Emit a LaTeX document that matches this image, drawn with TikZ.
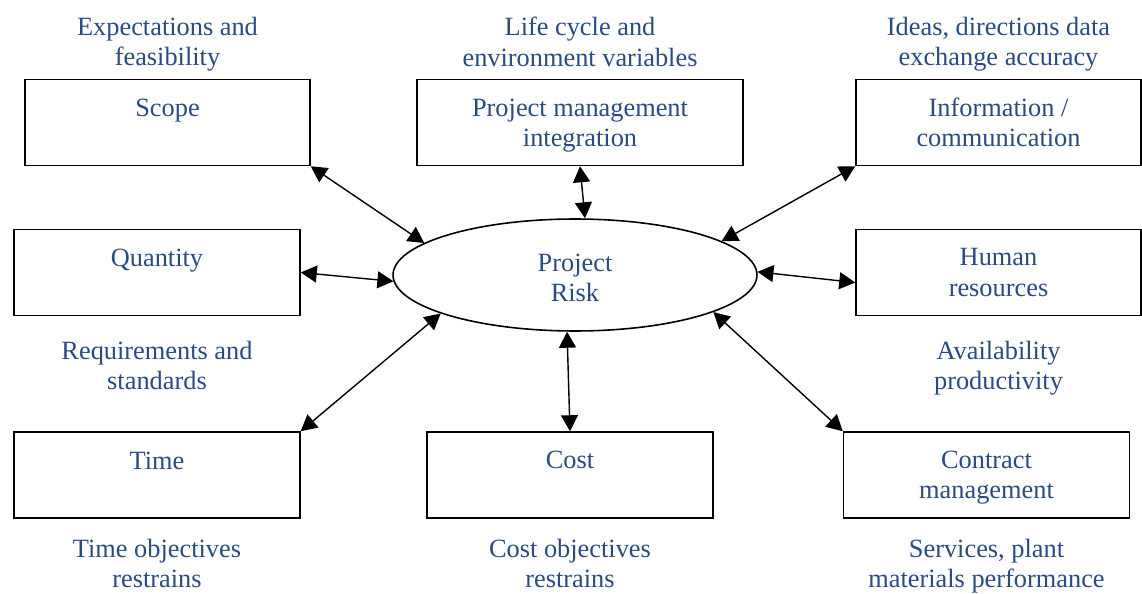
\documentclass[tikz,border=0pt]{standalone}
\usepackage{fontspec}
\setmainfont{Liberation Serif}
\usetikzlibrary{positioning,shapes.geometric,arrows.meta}
\definecolor{riskblue}{RGB}{40,75,130}

\begin{document}
\begin{tikzpicture}[x=0.02cm,y=-0.02cm,
  box/.style={draw,line width=0.9pt,minimum width=5.72cm,minimum height=1.72cm,inner sep=0},
  txt/.style={text=riskblue,align=center,inner sep=0,font=\fontsize{15}{17.25}\selectfont},
  link/.style={line width=0.8pt,{Triangle[length=0.32cm,width=0.34cm]}-{Triangle[length=0.32cm,width=0.34cm]}}]
\useasboundingbox (0,0) rectangle (1142,594);
% centre
\node[draw,ellipse,line width=0.9pt,minimum width=7.28cm,minimum height=2.24cm,inner sep=0] (risk) at (575,275) {};
\node[txt] (risktxt) at (575,278) {Project\\Risk};
% boxes
\node[box,minimum width=5.7cm] (scope) at (167.5,122.5) {};
\node[box,minimum width=6.52cm] (pm) at (580,122.5) {};
\node[box,minimum width=5.7cm] (info) at (998.5,122.5) {};
\node[box] (quantity) at (157,272.5) {};
\node[box,minimum width=5.7cm] (human) at (998.5,272.5) {};
\node[box] (time) at (157,475) {};
\node[box] (cost) at (570,475) {};
\node[box] (contract) at (986.5,475) {};
% box texts
\node[txt,below=0.39cm of scope.north] (scopetxt) {Scope};
\node[txt,below=0.39cm of pm.north] (pmtxt) {Project management\\integration};
\node[txt,below=0.37cm of info.north] (infotxt) {Information /\\communication};
\node[txt,below=0.39cm of quantity.north] (quantitytxt) {Quantity};
\node[txt,below=0.39cm of human.north] (humantxt) {Human\\resources};
\node[txt,below=0.4cm of time.north] (timetxt) {Time};
\node[txt,below=0.39cm of cost.north] (costtxt) {Cost};
\node[txt,below=0.39cm of contract.north] (contracttxt) {Contract\\management};
% outer labels
\node[txt,above=0.14cm of scope] (scopelbl) {Expectations and\\feasibility};
\node[txt,above=0.24cm of pm] (pmlbl) {Life cycle and\\environment variables};
\node[txt,above=0.14cm of info] (infolbl) {Ideas, directions data\\exchange accuracy};
\node[txt,below=0.49cm of quantity] (quantitylbl) {Requirements and\\standards};
\node[txt,below=0.49cm of human] (humanlbl) {Availability\\productivity};
\node[txt,below=0.4cm of time] (timelbl) {Time objectives\\restrains};
\node[txt,below=0.4cm of cost] (costlbl) {Cost objectives\\restrains};
\node[txt,below=0.4cm of contract] (contractlbl) {Services, plant\\materials performance};
% links
\draw[link] (scope.south east) -- (risk.168);
\draw[link] (pm.south) -- (risk.80);
\draw[link] (info.south west) -- (risk.13);
\draw[link] (quantity.east) -- (risk.182);
\draw[link] (risk.1) -- (human.184);
\draw[link] (time.north east) -- (risk.196);
\draw[link] (risk.262) -- (cost.north);
\draw[link] (risk.345) -- (contract.north west);
\end{tikzpicture}
\end{document}
